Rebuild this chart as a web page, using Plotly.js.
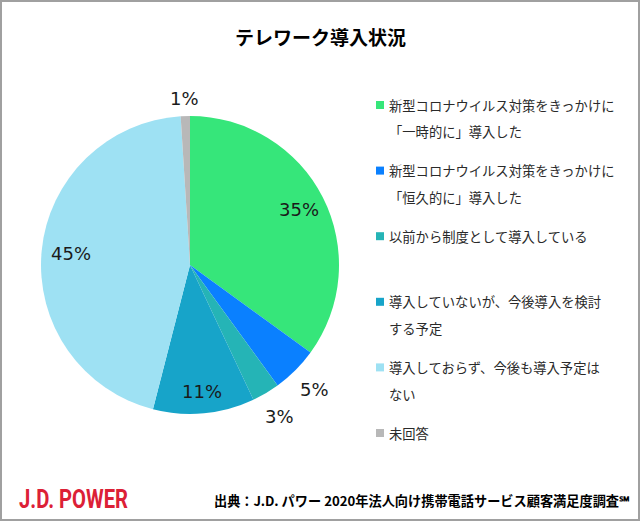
<!DOCTYPE html>
<html><head><meta charset="utf-8">
<script src="https://cdn.plot.ly/plotly-3.0.1.min.js"></script>
<style>html,body{margin:0;padding:0;background:#fff;}#chart{width:640px;height:521px;}</style>
</head><body><div id="chart"></div>
<script>
// ---- data ----
const categories = [
  "新型コロナウイルス対策をきっかけに<br>「一時的に」導入した",
  "新型コロナウイルス対策をきっかけに<br>「恒久的に」導入した",
  "以前から制度として導入している",
  "導入していないが、今後導入を検討<br>する予定",
  "導入しておらず、今後も導入予定は<br>ない",
  "未回答"
];
const shares = [35, 5, 3, 11, 45, 1];
const sliceColors = ["#36e67a", "#0a80ff", "#25b4b6", "#17a4c9", "#9ee1f3", "#b8b8b8"];
const titleText = "テレワーク導入状況";
const sourceText = "出典：J.D. パワー 2020年法人向け携帯電話サービス顧客満足度調査℠";
const brandText = "J.D. POWER";

// ---- layout helpers ----
const W = 640, H = 521;
const px = x => x / W, py = y => 1 - y / H;
const cx = 190, cy = 265, R = 149;
const labelRadius = [0.82, 1.18, 1.18, 0.85, 0.80, 1.12];

const annotations = [];
const shapes = [];
// slice labels computed from the data
const total = shares.reduce((a, b) => a + b, 0);
let cum = 0;
shares.forEach((v, i) => {
  const mid = (cum + v / 2) / total * 2 * Math.PI;
  cum += v;
  const r = R * labelRadius[i];
  const x = cx + r * Math.sin(mid), y = cy - r * Math.cos(mid);
  annotations.push({xref:"paper", yref:"paper", x:px(x), y:py(y), xanchor:"center", yanchor:"middle",
    text: v + "%", showarrow:false, font:{family:"DejaVu Sans, Verdana, sans-serif", size:18, color:"#1a1a1a"}});
});
// legend
categories.forEach((c, i) => {
  const y0 = 105 + i * 65.6;
  c.split("<br>").forEach((line, j) => {
    annotations.push({xref:"paper", yref:"paper", x:px(387), y:py(y0 + j * 27), xanchor:"left", yanchor:"middle",
      text: line, showarrow:false, font:{family:"Noto Sans CJK JP, sans-serif", size:13.3, color:"#2a2a2a"}});
  });
  shapes.push({type:"rect", xref:"paper", yref:"paper", x0:px(376), x1:px(384), y0:py(y0 - 4), y1:py(y0 + 4),
    fillcolor: sliceColors[i], line:{width:0}});
});
// title, brand, source
annotations.push({xref:"paper", yref:"paper", x:0.5, y:py(37), xanchor:"center", yanchor:"middle", showarrow:false,
  text:"<b>" + titleText + "</b>", font:{family:"Noto Sans CJK JP, sans-serif", size:19, color:"#000"}});
const brandIndex = annotations.length;
annotations.push({xref:"paper", yref:"paper", x:px(17), y:py(499), xanchor:"left", yanchor:"middle", showarrow:false,
  text:"<b>" + brandText + "</b>", font:{family:"Roboto, sans-serif", size:25, color:"#dc2036"}});
annotations.push({xref:"paper", yref:"paper", x:px(632), y:py(500), xanchor:"right", yanchor:"middle", showarrow:false,
  text:"<b>" + sourceText + "</b>", font:{family:"Noto Sans CJK JP, sans-serif", size:13.2, color:"#000"}});
// frame
shapes.push({type:"rect", xref:"paper", yref:"paper", x0:px(1), x1:px(639), y0:py(520), y1:py(1),
  line:{color:"#a0a0a0", width:2}, fillcolor:"rgba(0,0,0,0)"});

const trace = {
  type: "pie",
  labels: categories.map(c => c.replace("<br>", "")),
  values: shares,
  sort: false,
  direction: "clockwise",
  rotation: 0,
  textinfo: "none",
  hoverinfo: "label+percent",
  marker: {colors: sliceColors, line: {width: 0}},
  domain: {x: [px(40), px(340)], y: [py(414), py(116)]},
  showlegend: false
};

Plotly.newPlot("chart", [trace], {
  width: W, height: H,
  margin: {l:0, r:0, t:0, b:0},
  paper_bgcolor: "#fff",
  showlegend: false,
  annotations: annotations,
  shapes: shapes
}, {displayModeBar: false, staticPlot: true}).then(gd => {
  // condense the brand wordmark horizontally (it is a narrow typeface in the original)
  const t = gd.querySelector('.annotation[data-index="' + brandIndex + '"] text');
  if (t) {
    const bb = t.getBBox();
    const targetW = 109;
    const s = Math.min(1, targetW / bb.width);
    t.setAttribute("transform", "translate(" + bb.x + ",0) scale(" + s + ",1) translate(" + (-bb.x) + ",0)");
  }
});
</script></body></html>
